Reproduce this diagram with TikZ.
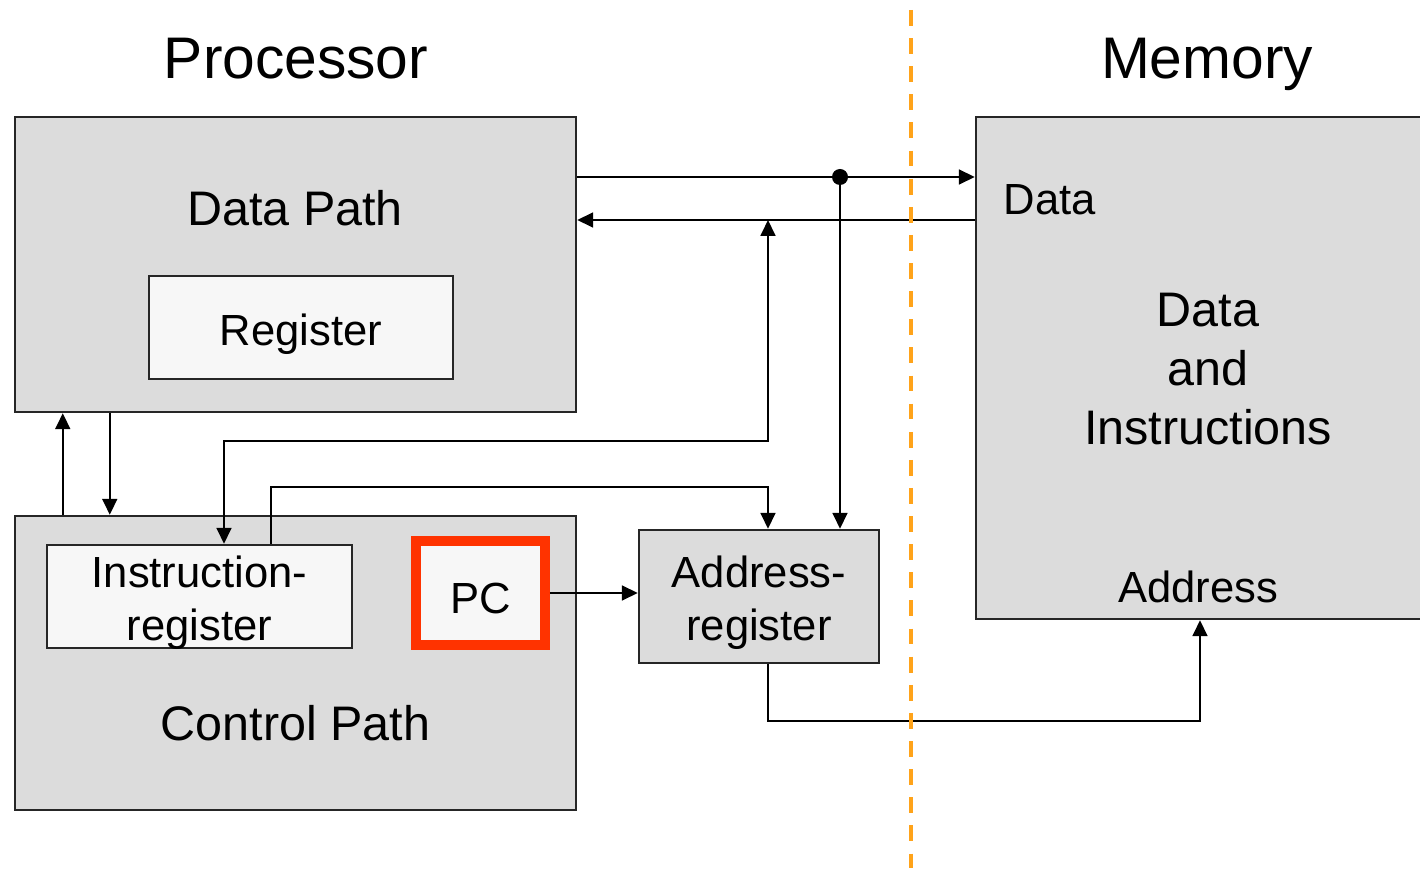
\documentclass[tikz,border=0pt]{standalone}
\usepackage{fontspec}
\setmainfont{Liberation Sans}
\usetikzlibrary{arrows.meta,calc}
\definecolor{grigio}{HTML}{DCDCDC}
\definecolor{chiaro}{HTML}{F7F7F7}
\definecolor{rosso}{HTML}{FF3300}
\definecolor{arancio}{HTML}{FFA31A}
\tikzset{
>={Triangle[length=4.5pt,width=4.2pt]},
blocco/.style={draw=black!85,line width=0.7pt,fill=grigio,inner sep=0pt},
registro/.style={draw=black!85,line width=0.7pt,fill=chiaro,inner sep=0pt},
freccia/.style={->,line width=0.6pt},
titolo/.style={inner sep=0pt,font=\fontsize{16.7}{20}\selectfont},
grande/.style={inner sep=0pt,align=center,font=\fontsize{13.8}{16.7}\selectfont},
piccolo/.style={align=center,font=\fontsize{12.4}{15}\selectfont}}

\begin{document}
\begin{tikzpicture}

      \useasboundingbox (0,0) rectangle (14.2,-8.78);

      \node[titolo,anchor=base] (proc) at (2.96,-0.79) {Processor};
      \node[titolo,anchor=base] (memt) at (12.07,-0.79) {Memory};

      \node[blocco,minimum width=5.61cm,minimum height=2.95cm] (dp) at (2.955,-2.645) {};
      \node[grande,anchor=base] (dpt) at (2.95,-2.26) {Data Path};
      \node[registro,minimum width=3.04cm,minimum height=1.03cm] (reg) at (3.01,-3.275) {};
      \node[piccolo] (regt) at ([yshift=-0.07cm]reg.center) {Register};

      \node[blocco,minimum width=5.61cm,minimum height=2.94cm] (cp) at (2.955,-6.63) {};
      \node[grande,anchor=base] (cpt) at (2.955,-7.40) {Control Path};
      \node[registro,minimum width=3.05cm,minimum height=1.03cm] (ir) at (1.995,-5.965) {};
      \node[piccolo] (irt) at ([yshift=-0.06cm]ir.center) {Instruction-\\register};
      \node[registro,draw=rosso,line width=2.8pt,minimum width=1.29cm,minimum height=1.04cm] (pc) at (4.805,-5.93) {};
      \node[piccolo] (pct) at ([yshift=-0.05cm]pc.center) {PC};

      \node[blocco,minimum width=2.40cm,minimum height=1.33cm] (ar) at (7.59,-5.965) {};
      \node[piccolo] (art) at ([yshift=-0.06cm]ar.center) {Address-\\register};

      \node[blocco,minimum width=4.6cm,minimum height=5.02cm] (mem) at (12.06,-3.68) {};
      \node[piccolo,inner sep=0pt,anchor=base west] (dat) at (10.03,-2.15) {Data};
      \node[grande] (di) at (12.08,-3.69) {Data\\and\\Instructions};
      \node[piccolo,inner sep=0pt,anchor=base] (adr) at (11.98,-6.03) {Address};

      \coordinate (punto) at (8.4,-1.77);
      \coordinate (ritorno) at (7.68,-2.2);
      \coordinate (sopra) at (2.24,-4.41);
      \coordinate (sotto) at (2.71,-4.87);
      \coordinate (giu) at (12.0,-7.21);

      \draw[freccia] (dp.east |- punto) -- (mem.west |- punto);
      \fill (punto) circle (0.08);
      \draw[freccia] (punto) -- (ar.north -| punto);
      \draw[freccia] (mem.west |- ritorno) -- (dp.east |- ritorno);
      \draw[freccia,<->] (ritorno) |- (sopra) -- (ir.north -| sopra);
      \draw[freccia] (ir.north -| sotto) |- (sotto -| ritorno) -- (ar.north -| ritorno);
      \draw[freccia] ($(cp.north west)+(0.49,0)$) -- ($(dp.south west)+(0.49,0)$);
      \draw[freccia] ($(dp.south west)+(0.96,0)$) -- ($(cp.north west)+(0.96,0)$);
      \draw[freccia] (pc.east) -- (ar.west |- pc.east);
      \draw[freccia] (ar.south -| ritorno) |- (giu) -- (mem.south -| giu);

      \draw[arancio,line width=1.1pt,dash pattern=on 4.5pt off 3.5pt] (9.11,-0.1) -- (9.11,-8.68);
\end{tikzpicture}
\end{document}
